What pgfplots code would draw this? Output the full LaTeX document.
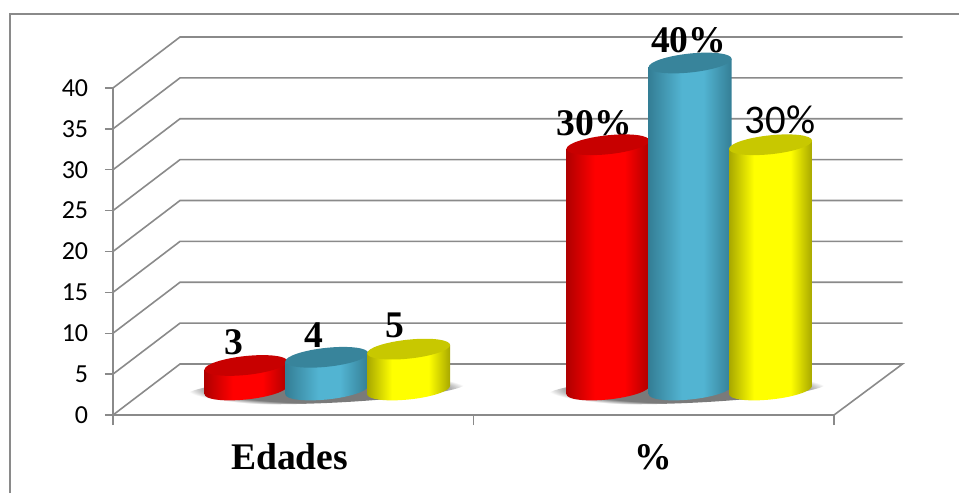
\documentclass[border=0pt]{standalone}
\usepackage{pgfplots}
\pgfplotsset{compat=1.18}
\usepackage{fontspec}
\setmainfont{Carlito}
\newfontfamily\tnr{Liberation Serif}
\definecolor{axgray}{HTML}{8A8A8A}
\definecolor{shgray}{HTML}{7A7A7A}
\definecolor{rA}{HTML}{B00000}\definecolor{rB}{HTML}{FF0000}\definecolor{rT}{HTML}{C80000}
\definecolor{bA}{HTML}{347E95}\definecolor{bB}{HTML}{52B4D2}\definecolor{bT}{HTML}{38849B}
\definecolor{yA}{HTML}{A8A800}\definecolor{yB}{HTML}{FFFF00}\definecolor{yT}{HTML}{C8C800}
\pgfdeclarehorizontalshading{cylr}{100bp}{color(0bp)=(rA);color(25bp)=(rA);color(42bp)=(rB);color(60bp)=(rB);color(75bp)=(rA);color(100bp)=(rA)}
\pgfdeclarehorizontalshading{cylb}{100bp}{color(0bp)=(bA);color(25bp)=(bA);color(45bp)=(bB);color(58bp)=(bB);color(75bp)=(bA);color(100bp)=(bA)}
\pgfdeclarehorizontalshading{cyly}{100bp}{color(0bp)=(yA);color(25bp)=(yA);color(40bp)=(yB);color(62bp)=(yB);color(75bp)=(yA);color(100bp)=(yA)}
\pgfdeclareradialshading{cylsh}{\pgfpointorigin}{color(0bp)=(shgray);color(20bp)=(shgray);color(25bp)=(white);color(50bp)=(white)}
% a cylinder standing on the floor: the mark sits at (x,value), its height comes from the value
\newcommand\defcyl[2]{%
  \pgfdeclareplotmark{cyl#1}{%
    \pgfmathsetmacro\cylH{\cylv*8.175}%
    \begin{scope}[x=0.75pt,y=0.75pt]
      \pgftransformshift{\pgfpoint{25.125pt}{18.75pt}}%
      \pgftransformcm{1}{0.1}{0}{1}{\pgfpointorigin}%
      \path[draw=none,shading=cyl#1] (-41.5,-\cylH) arc[start angle=180,end angle=360,x radius=41.5,y radius=9.5]
         -- (41.5,0) -- (-41.5,0) -- cycle;
      \path[draw=none,fill=#2] (0,0) ellipse[x radius=41.5,y radius=9.5];
    \end{scope}}}
\defcyl{r}{rT}\defcyl{b}{bT}\defcyl{y}{yT}
\pgfdeclareplotmark{cylshadow}{%
  \begin{scope}[x=0.75pt,y=0.75pt]
    \pgftransformshift{\pgfpoint{25.125pt}{19.5pt}}%
    \pgftransformcm{1}{0.044}{0}{1}{\pgfpointorigin}%
    \path[draw=none,shading=cylsh] (0,0) ellipse[x radius=140,y radius=14];
  \end{scope}}
\begin{document}
\begin{tikzpicture}
\path[use as bounding box] (-84.75pt,-58.5pt) rectangle (634.5pt,311.25pt);
\draw[axgray,line width=1.1pt] (-77.25pt,-58.5pt) -- (-77.25pt,300.75pt) -- (634.5pt,300.75pt);
\begin{axis}[
  at={(0,0)},anchor=south west,
  scale only axis,width=540.75pt,height=245.25pt,
  xmin=0,xmax=2,ymin=0,ymax=40,clip=false,
  axis x line*=bottom,axis y line*=left,
  axis line style={axgray,line width=1.2pt},
  tick align=outside,
  xtick={0,1,2},xticklabels={},
  ytick={0,5,...,40},
  xtick style={axgray,line width=1.1pt,/pgfplots/major tick length=7.5pt},
  ytick style={axgray,line width=1.1pt,/pgfplots/major tick length=6pt},
  /pgf/number format/assume math mode=true,
  tick label style={font=\fontsize{19.5}{21}\selectfont,black},
  yticklabel style={inner xsep=0pt,xshift=-14.2pt},
  extra x ticks={0.49,1.5},
  extra x tick labels={Edades,\%},
  extra x tick style={major tick length=0pt,tick style={draw=none},
    xticklabel style={font=\tnr\bfseries\fontsize{28.2}{30}\selectfont,anchor=base,yshift=-41pt}},
  unbounded coords=jump,
]
% gridlines: floor and back wall
\addplot[axgray,line width=1.2pt,mark=none,forget plot] table[row sep=crcr] {
0 0\\ 0.186 6.24\\ 2.19 6.24\\ 2 0\\ nan nan\\
0 5\\ 0.186 11.24\\ 2.19 11.24\\ nan nan\\
0 10\\ 0.186 16.24\\ 2.19 16.24\\ nan nan\\
0 15\\ 0.186 21.24\\ 2.19 21.24\\ nan nan\\
0 20\\ 0.186 26.24\\ 2.19 26.24\\ nan nan\\
0 25\\ 0.186 31.24\\ 2.19 31.24\\ nan nan\\
0 30\\ 0.186 36.24\\ 2.19 36.24\\ nan nan\\
0 35\\ 0.186 41.24\\ 2.19 41.24\\ nan nan\\
0 40\\ 0.186 46.24\\ 2.19 46.24\\
};
% shadows
\addplot[scatter,only marks,mark=cylshadow,forget plot] coordinates {(0.5,0)(1.5,0)};
% cylinders
\addplot[scatter,only marks,mark=cylr,visualization depends on={rawy\as\cylv}] coordinates {(0.276,3)(1.28,30)};
\addplot[scatter,only marks,mark=cylb,visualization depends on={rawy\as\cylv}] coordinates {(0.5,4)(1.508,40)};
\addplot[scatter,only marks,mark=cyly,visualization depends on={rawy\as\cylv}] coordinates {(0.727,5)(1.731,30)};
% data labels
\tikzset{dl/.style={anchor=base,inner sep=0pt,font=\tnr\bfseries\fontsize{28.2}{30}\selectfont}}
\node[dl] at (axis cs:0.336,7.34) {3};
\node[dl] at (axis cs:0.558,8.3) {4};
\node[dl] at (axis cs:0.782,9.54) {5};
\node[dl] at (axis cs:1.335,34.25) {30\%};
\node[dl] at (axis cs:1.597,44.4) {40\%};
\node[anchor=base,inner sep=0pt,font=\fontsize{30.5}{32}\selectfont] at (axis cs:1.85,34.4) {30\%};
\end{axis}
\end{tikzpicture}
\end{document}
